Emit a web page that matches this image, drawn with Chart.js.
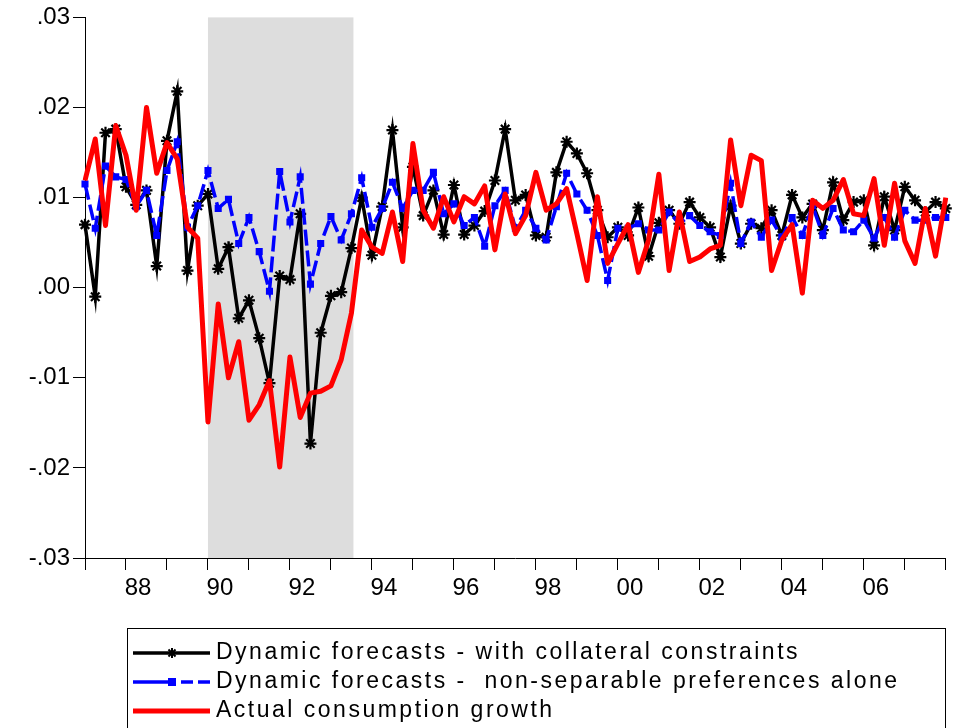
<!DOCTYPE html>
<html>
<head>
<meta charset="utf-8">
<script src="https://cdn.jsdelivr.net/npm/chart.js@4.4.1/dist/chart.umd.min.js"></script>
<style>
  html, body { margin: 0; padding: 0; background: #fff; }
  #wrap { width: 954px; height: 728px; }
</style>
</head>
<body>
<div id="wrap"><canvas id="chart" width="954" height="728"></canvas></div>
<script>
// quarterly data, 1987Q1 onwards
var startYear = 1987;

var collateral = [
  0.0070, -0.0010, 0.0172, 0.0176, 0.0112, 0.0092, 0.0108, 0.0024, 0.0163, 0.0218,
  0.0019, 0.0091, 0.0104, 0.0021, 0.0045, -0.0034, -0.0014, -0.0056, -0.0106, 0.0013,
  0.0009, 0.0082, -0.0173, -0.0050, -0.0009, -0.0005, 0.0044, 0.0100, 0.0036, 0.0090,
  0.0175, 0.0067, 0.0134, 0.0080, 0.0108, 0.0059, 0.0114, 0.0059, 0.0069, 0.0085,
  0.0119, 0.0176, 0.0097, 0.0103, 0.0058, 0.0056, 0.0128, 0.0162, 0.0149, 0.0127,
  0.0086, 0.0056, 0.0067, 0.0058, 0.0089, 0.0035, 0.0072, 0.0086, 0.0071, 0.0095,
  0.0078, 0.0067, 0.0034, 0.0091, 0.0049, 0.0071, 0.0066, 0.0086, 0.0058, 0.0103,
  0.0078, 0.0093, 0.0064, 0.0117, 0.0075, 0.0095, 0.0097, 0.0047, 0.0101, 0.0064,
  0.0112, 0.0097, 0.0084, 0.0095, 0.0088
];

var nonSeparable = [
  0.0115, 0.0066, 0.0135, 0.0123, 0.0120, 0.0090, 0.0108, 0.0058, 0.0130, 0.0162,
  0.0067, 0.0091, 0.0130, 0.0088, 0.0098, 0.0049, 0.0078, 0.0040, -0.0004, 0.0129,
  0.0073, 0.0123, 0.0004, 0.0049, 0.0079, 0.0053, 0.0082, 0.0122, 0.0067, 0.0088,
  0.0117, 0.0088, 0.0108, 0.0108, 0.0128, 0.0082, 0.0093, 0.0069, 0.0078, 0.0046,
  0.0091, 0.0108, 0.0066, 0.0086, 0.0066, 0.0053, 0.0090, 0.0127, 0.0104, 0.0086,
  0.0058, 0.0008, 0.0066, 0.0066, 0.0071, 0.0064, 0.0064, 0.0084, 0.0071, 0.0080,
  0.0069, 0.0062, 0.0058, 0.0116, 0.0049, 0.0073, 0.0056, 0.0075, 0.0056, 0.0078,
  0.0058, 0.0091, 0.0058, 0.0088, 0.0064, 0.0062, 0.0075, 0.0055, 0.0078, 0.0056,
  0.0086, 0.0075, 0.0075, 0.0078, 0.0078
];

var actual = [
  0.0119, 0.0165, 0.0069, 0.0180, 0.0147, 0.0086, 0.0200, 0.0127, 0.0161, 0.0143,
  0.0067, 0.0055, -0.0149, -0.0018, -0.0100, -0.0060, -0.0147, -0.0130, -0.0103, -0.0199,
  -0.0077, -0.0144, -0.0117, -0.0115, -0.0109, -0.0080, -0.0028, 0.0064, 0.0045, 0.0038,
  0.0084, 0.0029, 0.0160, 0.0086, 0.0066, 0.0101, 0.0073, 0.0101, 0.0093, 0.0113,
  0.0042, 0.0104, 0.0060, 0.0080, 0.0128, 0.0086, 0.0093, 0.0110, 0.0060, 0.0008,
  0.0101, 0.0027, 0.0049, 0.0070, 0.0017, 0.0053, 0.0126, 0.0019, 0.0084, 0.0029,
  0.0034, 0.0043, 0.0047, 0.0164, 0.0091, 0.0147, 0.0141, 0.0019, 0.0053, 0.0070,
  -0.0006, 0.0097, 0.0088, 0.0097, 0.0120, 0.0082, 0.0080, 0.0121, 0.0047, 0.0116,
  0.0052, 0.0027, 0.0088, 0.0035, 0.0100
];

var seriesNames = [
  'Dynamic forecasts - with collateral constraints',
  'Dynamic forecasts -  non-separable preferences alone',
  'Actual consumption growth'
];

var yTicks = [-0.03, -0.02, -0.01, 0, 0.01, 0.02, 0.03];
var shadeFrom = '1990Q1';
var shadeTo = '1993Q3';

var quarters = [];
for (var i = 0; i < actual.length; i++) {
  quarters.push((startYear + Math.floor(i / 4)) + 'Q' + (i % 4 + 1));
}

var FONT = "'Liberation Sans', Arial, sans-serif";

function yLabel(v) {
  var s = Math.abs(v).toFixed(2).replace(/^0/, '');
  return (v < -1e-9 ? '-' : '') + s;
}

var shadePlugin = {
  id: 'shade',
  beforeDatasetsDraw: function (chart) {
    var x = chart.scales.x, area = chart.chartArea, ctx = chart.ctx;
    var x1 = x.getPixelForValue(quarters.indexOf(shadeFrom));
    var x2 = x.getPixelForValue(quarters.indexOf(shadeTo));
    ctx.save();
    ctx.fillStyle = '#dddddd';
    ctx.fillRect(x1, area.top, x2 - x1 + 2, area.bottom - area.top);
    ctx.restore();
  }
};

function drawStar(ctx, x, y, r) {
  ctx.beginPath();
  for (var k = 0; k < 4; k++) {
    var a = k * Math.PI / 4;
    ctx.moveTo(x - Math.cos(a) * r, y - Math.sin(a) * r);
    ctx.lineTo(x + Math.cos(a) * r, y + Math.sin(a) * r);
  }
  ctx.stroke();
}

var legendPlugin = {
  id: 'boxLegend',
  afterDraw: function (chart) {
    var ctx = chart.ctx;
    var left = 127.5, top = 628.5;
    var rows = [653, 682, 711];
    ctx.save();
    ctx.strokeStyle = '#000';
    ctx.lineWidth = 1;
    ctx.strokeRect(left, top, 818, 120);

    // black with stars
    ctx.strokeStyle = '#000';
    ctx.lineWidth = 3.5;
    ctx.beginPath(); ctx.moveTo(133, rows[0]); ctx.lineTo(210, rows[0]); ctx.stroke();
    ctx.lineWidth = 2;
    drawStar(ctx, 172, rows[0], 5);

    // blue dashed with square
    ctx.strokeStyle = '#0000ff';
    ctx.fillStyle = '#0000ff';
    ctx.lineWidth = 3.5;
    ctx.beginPath(); ctx.moveTo(133, rows[1]); ctx.lineTo(170, rows[1]); ctx.stroke();
    ctx.fillRect(168, rows[1] - 4, 8, 8);
    ctx.beginPath(); ctx.moveTo(181, rows[1]); ctx.lineTo(193, rows[1]); ctx.stroke();
    ctx.beginPath(); ctx.moveTo(198, rows[1]); ctx.lineTo(210, rows[1]); ctx.stroke();

    // red
    ctx.strokeStyle = '#ff0000';
    ctx.lineWidth = 5;
    ctx.beginPath(); ctx.moveTo(133, rows[2]); ctx.lineTo(210, rows[2]); ctx.stroke();

    ctx.fillStyle = '#000';
    ctx.font = '23px ' + FONT;
    ctx.textBaseline = 'middle';
    ctx.textAlign = 'left';
    ctx.letterSpacing = '2.5px';
    for (var r = 0; r < seriesNames.length; r++) {
      ctx.fillText(seriesNames[r], 216, rows[r]);
    }
    ctx.restore();
  }
};

var ctx = document.getElementById('chart').getContext('2d');
var chart = new Chart(ctx, {
  type: 'line',
  data: {
    labels: quarters,
    datasets: [{
      label: seriesNames[0],
      data: collateral,
      borderColor: '#000000',
      backgroundColor: '#000000',
      borderWidth: 3.5,
      pointStyle: 'star',
      pointRadius: 6,
      pointBorderWidth: 2.2,
      pointBorderColor: '#000000',
      order: 2
    }, {
      label: seriesNames[1],
      data: nonSeparable,
      borderColor: '#0000ff',
      backgroundColor: '#0000ff',
      borderWidth: 3.5,
      borderDash: [16, 5],
      pointStyle: 'rect',
      pointRadius: 5,
      pointBorderWidth: 0,
      order: 1
    }, {
      label: seriesNames[2],
      data: actual,
      borderColor: '#ff0000',
      backgroundColor: '#ff0000',
      borderWidth: 5,
      borderJoinStyle: 'round',
      pointRadius: 0,
      order: 0
    }]
  },
  options: {
    responsive: false,
    animation: false,
    devicePixelRatio: 1,
    layout: { padding: { top: 17, right: 5, left: 0, bottom: 0 } },
    plugins: {
      legend: { display: false },
      tooltip: { enabled: false }
    },
    elements: { line: { tension: 0 } },
    scales: {
      x: {
        type: 'category',
        offset: false,
        afterFit: function (scale) { scale.height = 170; },
        border: { display: true, color: '#000', width: 1 },
        grid: {
          drawOnChartArea: false,
          drawTicks: true,
          tickLength: 12,
          color: function (c) { return c.index % 4 === 0 ? '#000' : 'rgba(0,0,0,0)'; }
        },
        ticks: {
          autoSkip: false,
          maxRotation: 0,
          minRotation: 0,
          labelOffset: 12,
          padding: 4,
          color: '#000',
          font: { family: FONT, size: 24 },
          callback: function (v, idx) {
            if (idx % 8 !== 4 || idx >= quarters.length - 1) return '';
            return quarters[idx].substr(2, 2);
          }
        }
      },
      y: {
        min: yTicks[0],
        max: yTicks[yTicks.length - 1],
        afterFit: function (scale) { scale.width = 85; },
        afterBuildTicks: function (scale) {
          scale.ticks = yTicks.map(function (v) { return { value: v }; });
        },
        border: { display: true, color: '#000', width: 1 },
        grid: {
          drawOnChartArea: false,
          drawTicks: true,
          tickLength: 12,
          color: '#000'
        },
        ticks: {
          padding: 3,
          color: '#000',
          font: { family: FONT, size: 24 },
          callback: function (v) { return yLabel(v); }
        }
      }
    }
  },
  plugins: [shadePlugin, legendPlugin]
});
</script>
</body>
</html>
